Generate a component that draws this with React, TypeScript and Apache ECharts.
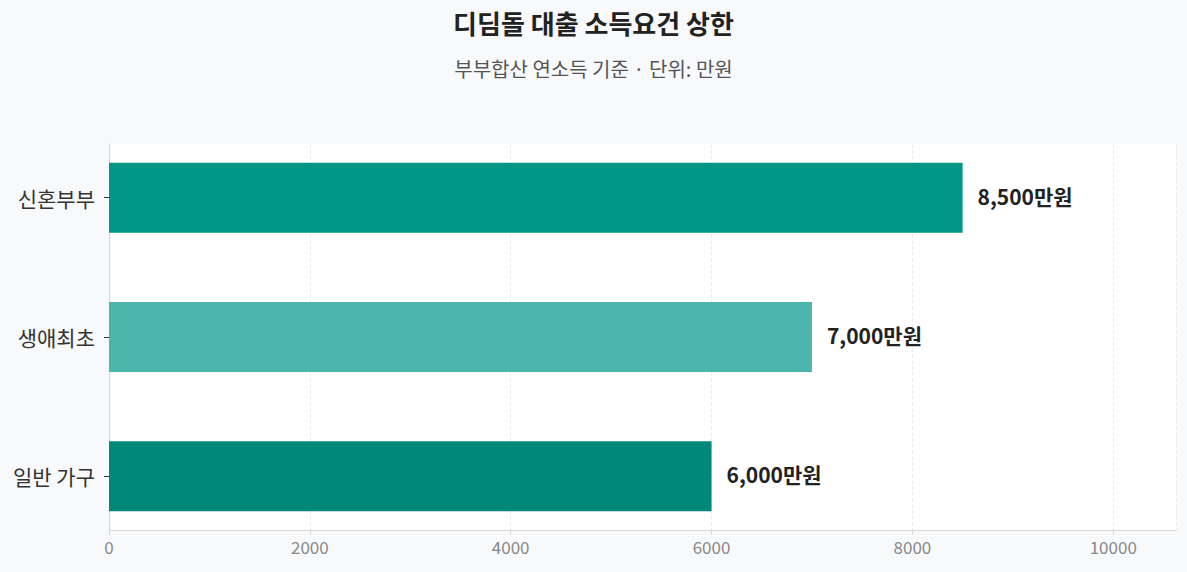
import * as echarts from 'echarts';
import { useEffect, useRef } from 'react';

const categories = ['일반 가구', '생애최초', '신혼부부'];
const incomeLimits = [6000, 7000, 8500];
const barColors = ['#00897B', '#4DB6AC', '#009688'];
const xMax = 10625;

const FONT = '"Noto Sans CJK KR", "Noto Sans", sans-serif';

export default function App() {
  const chartRef = useRef<HTMLDivElement>(null);

  useEffect(() => {
    if (!chartRef.current) return;
    document.body.style.margin = '0';

    const chart = echarts.init(chartRef.current, undefined, { renderer: 'svg' });

    chart.setOption({
      animation: false,
      backgroundColor: '#f8f9fb',
      textStyle: { fontFamily: FONT },
      title: {
        text: '디딤돌 대출 소득요건 상한',
        subtext: '부부합산 연소득 기준 · 단위: 만원',
        left: 'center',
        top: 4,
        itemGap: 23,
        textStyle: { fontSize: 26, fontWeight: 'bold', color: '#222', fontFamily: FONT },
        subtextStyle: { fontSize: 20, color: '#555', fontFamily: FONT },
      },
      // grid 0: visible frame / axes, grid 1: bars and category labels
      grid: [
        {
          left: 109,
          right: 11,
          top: 144,
          bottom: 42,
          show: true,
          backgroundColor: '#ffffff',
          borderWidth: 0,
        },
        {
          left: 109,
          right: 11,
          top: 128,
          bottom: 26,
          show: false,
        },
      ],
      xAxis: [
        {
          gridIndex: 0,
          type: 'value',
          min: 0,
          max: xMax,
          interval: 2000,
          axisLine: { show: true, lineStyle: { color: '#d6d6d6' } },
          axisTick: { show: true, length: 5, lineStyle: { color: '#d6d6d6' } },
          axisLabel: {
            color: '#888',
            fontSize: 17,
            fontFamily: FONT,
            showMaxLabel: false,
            formatter: (v: number) => String(v),
          },
          splitLine: { show: true, lineStyle: { type: 'dashed', color: '#ececec' } },
        },
        {
          gridIndex: 1,
          type: 'value',
          min: 0,
          max: xMax,
          show: false,
          splitLine: { show: false },
        },
      ],
      yAxis: [
        {
          gridIndex: 0,
          type: 'value',
          axisLine: { show: true, lineStyle: { color: '#d6d6d6' } },
          axisTick: { show: false },
          axisLabel: { show: false },
          splitLine: { show: false },
        },
        {
          gridIndex: 1,
          type: 'category',
          data: categories,
          axisLine: { show: false },
          axisTick: { show: true, alignWithLabel: true, length: 5, lineStyle: { color: '#333' } },
          axisLabel: { color: '#333', fontSize: 21, fontFamily: FONT, margin: 14 },
          splitLine: { show: false },
        },
      ],
      series: [
        {
          type: 'bar',
          xAxisIndex: 1,
          yAxisIndex: 1,
          data: incomeLimits.map((v, i) => ({ value: v, itemStyle: { color: barColors[i] } })),
          barWidth: 70,
          label: {
            show: true,
            position: 'right',
            distance: 15,
            fontSize: 21,
            fontWeight: 'bold',
            color: '#222',
            fontFamily: FONT,
            offset: [0, -2],
            formatter: (p: any) => `${Number(p.value).toLocaleString('en-US')}만원`,
          },
        },
      ],
    });

    return () => {
      chart.dispose();
    };
  }, []);

  return <div ref={chartRef} style={{ width: '1187px', height: '572px' }} />;
}
